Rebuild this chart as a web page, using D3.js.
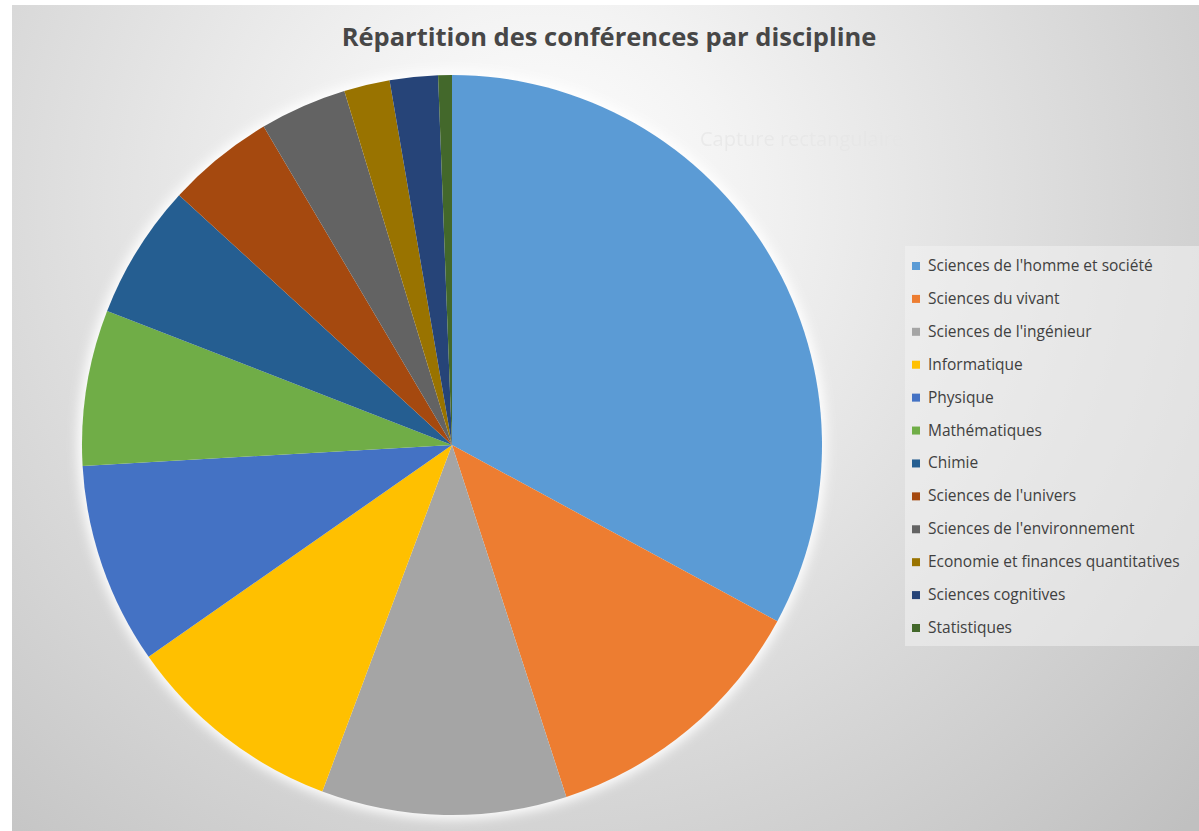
<!DOCTYPE html>
<html>
<head>
	<meta charset="utf-8">
	<title>Répartition des conférences par discipline</title>
	<script src="https://cdnjs.cloudflare.com/ajax/libs/d3/7.8.5/d3.min.js"></script>
	<style>
		body { margin: 0; background: #fff; }
		text { font-family: "Open Sans", sans-serif; }
	</style>
</head>
<body>
	<script type="text/javascript">

		// data (share of conferences, %)
		let disciplines = [
			"Sciences de l'homme et société",
			"Sciences du vivant",
			"Sciences de l'ingénieur",
			"Informatique",
			"Physique",
			"Mathématiques",
			"Chimie",
			"Sciences de l'univers",
			"Sciences de l'environnement",
			"Economie et finances quantitatives",
			"Sciences cognitives",
			"Statistiques"
		];
		let shares = [32.9, 12.1, 10.7, 9.6, 8.8, 6.8, 5.9, 4.7, 3.8, 2.0, 2.1, 0.6];
		let colors = ['#5b9bd5', '#ed7d31', '#a5a5a5', '#ffc000', '#4472c4', '#70ad47',
			'#255e91', '#a5490f', '#636363', '#997300', '#264478', '#43682b'];

		let width = 1199, height = 831;

		let svg = d3.select('body').append('svg')
			.attr('width', width)
			.attr('height', height);

		let defs = svg.append('defs');
		let grad = defs.append('radialGradient')
			.attr('id', 'bg')
			.attr('gradientUnits', 'userSpaceOnUse')
			.attr('cx', 540).attr('cy', 200).attr('r', 900);
		grad.append('stop').attr('offset', '0%').attr('stop-color', '#ffffff');
		grad.append('stop').attr('offset', '22%').attr('stop-color', '#f3f3f3');
		grad.append('stop').attr('offset', '100%').attr('stop-color', '#c0c0c0');

		let glow = defs.append('filter').attr('id', 'glow')
			.attr('x', '-20%').attr('y', '-20%').attr('width', '140%').attr('height', '140%');
		glow.append('feGaussianBlur').attr('stdDeviation', 6);

		// chart area
		svg.append('rect')
			.attr('x', 12).attr('y', 5)
			.attr('width', width - 12).attr('height', height - 5)
			.attr('fill', 'url(#bg)');

		// title
		svg.append('text')
			.attr('x', 609).attr('y', 46)
			.attr('text-anchor', 'middle')
			.attr('font-size', 25.5)
			.attr('font-weight', 'bold')
			.attr('fill', '#474747')
			.text('Répartition des conférences par discipline');

		// faint leftover text from the screen capture
		svg.append('text')
			.attr('x', 700).attr('y', 146)
			.attr('font-size', 20)
			.attr('fill', '#e6e6e6')
			.attr('opacity', 0.7)
			.text('Capture rectangulaire');

		// pie
		let cx = 452, cy = 445, radius = 370;
		let pie = d3.pie().sort(null).value(d => d);
		let arc = d3.arc().innerRadius(0).outerRadius(radius);

		let g = svg.append('g').attr('transform', `translate(${cx},${cy})`);

		g.append('circle')
			.attr('r', radius + 4)
			.attr('fill', '#ffffff')
			.attr('filter', 'url(#glow)');

		g.selectAll('path')
			.data(pie(shares))
			.enter().append('path')
			.attr('d', arc)
			.attr('fill', (d, i) => colors[i]);

		// legend
		let legend = svg.append('g');
		legend.append('rect')
			.attr('x', 905).attr('y', 246)
			.attr('width', 294).attr('height', 400)
			.attr('fill', '#f2f2f2')
			.attr('opacity', 0.55);

		let y = d3.scalePoint()
			.domain(disciplines)
			.range([266, 628]);

		let items = legend.selectAll('.item')
			.data(disciplines)
			.enter().append('g')
			.attr('class', 'item')
			.attr('transform', d => `translate(912,${y(d)})`);

		items.append('rect')
			.attr('x', 0).attr('y', -4)
			.attr('width', 8).attr('height', 8)
			.attr('fill', (d, i) => colors[i]);

		items.append('text')
			.attr('x', 16).attr('y', 5)
			.attr('font-size', 15.5)
			.attr('fill', '#404040')
			.text(d => d);

	</script>
</body>
</html>
